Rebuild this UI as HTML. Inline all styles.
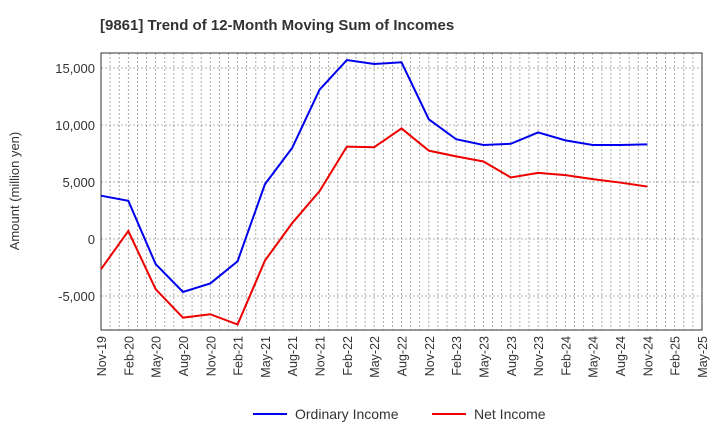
<!DOCTYPE html>
<html><head><meta charset="utf-8"><style>
body{margin:0;background:#fff;font-family:"Liberation Sans",sans-serif}
</style></head><body>
<svg id="c" width="720" height="440" xmlns="http://www.w3.org/2000/svg" font-family="Liberation Sans, sans-serif">
<text x="100" y="30" font-size="15" font-weight="bold" fill="#333">[9861]  Trend of 12-Month Moving Sum of Incomes</text>
<text transform="translate(19,191) rotate(-90)" text-anchor="middle" font-size="13" fill="#333">Amount (million yen)</text>
<g id="grid"></g><g id="axes"></g><g id="series"></g>
<g>
<line x1="253" y1="414" x2="287" y2="414" stroke="#0000ee" stroke-width="2"/>
<text x="295" y="419" font-size="14" fill="#333">Ordinary Income</text>
<line x1="432" y1="414" x2="466" y2="414" stroke="#ee0000" stroke-width="2"/>
<text x="474" y="419" font-size="14" fill="#333">Net Income</text>
</g>
</svg>
<script>
const xLabels=["Nov-19","Feb-20","May-20","Aug-20","Nov-20","Feb-21","May-21","Aug-21","Nov-21","Feb-22","May-22","Aug-22","Nov-22","Feb-23","May-23","Aug-23","Nov-23","Feb-24","May-24","Aug-24","Nov-24","Feb-25","May-25"];
const yTicks=[-5000,0,5000,10000,15000];
const ordinary=[3800,3350,-2200,-4650,-3900,-1950,4800,8000,13100,15700,15350,15500,10500,8750,8250,8350,9350,8650,8250,8250,8300];
const net=[-2650,700,-4400,-6900,-6600,-7500,-1900,1400,4200,8100,8050,9700,7750,7250,6800,5400,5800,5600,5250,4950,4600];
const L=101,R=702,T=53,B=330;
const x=i=>L+(R-L)*i/(xLabels.length-1);
const y=v=>239-v*57/5000;
const ns="http://www.w3.org/2000/svg";
function mk(t,a,p){const e=document.createElementNS(ns,t);for(const k in a)e.setAttribute(k,a[k]);p.appendChild(e);return e;}
const g=document.getElementById('grid'),ax=document.getElementById('axes'),s=document.getElementById('series');
for(let m=1;m<(xLabels.length-1)*3;m++){const xx=L+(R-L)*m/((xLabels.length-1)*3);
const l=mk('line',{x1:xx,x2:xx,y1:T,y2:B,stroke:'#999','stroke-dasharray':'2,2','stroke-width':0.8},g);
}
yTicks.forEach(v=>{const l=mk('line',{x1:L,x2:R,y1:y(v),y2:y(v),stroke:'#999','stroke-dasharray':'2,2','stroke-width':0.8},g);

const t=mk('text',{x:L-6,y:y(v)+5,'text-anchor':'end','font-size':13,fill:'#333'},ax);t.textContent=v.toLocaleString('en-US');
});
const f=mk('rect',{x:L,y:T,width:R-L,height:B-T,fill:'none',stroke:'#333','stroke-width':1},ax);

xLabels.forEach((lb,i)=>{const t=mk('text',{transform:`translate(${x(i)+5},${B+6}) rotate(-90)`,'text-anchor':'end','font-size':12.5,fill:'#333'},ax);t.textContent=lb;
});
[[ordinary,'#0000ee','ordinary-income-line'],[net,'#ee0000','net-income-line']].forEach(([d,c,n])=>{
const p=mk('polyline',{points:d.map((v,i)=>x(i)+','+y(v)).join(' '),fill:'none',stroke:c,'stroke-width':2},s);
});
</script>
</body></html>
